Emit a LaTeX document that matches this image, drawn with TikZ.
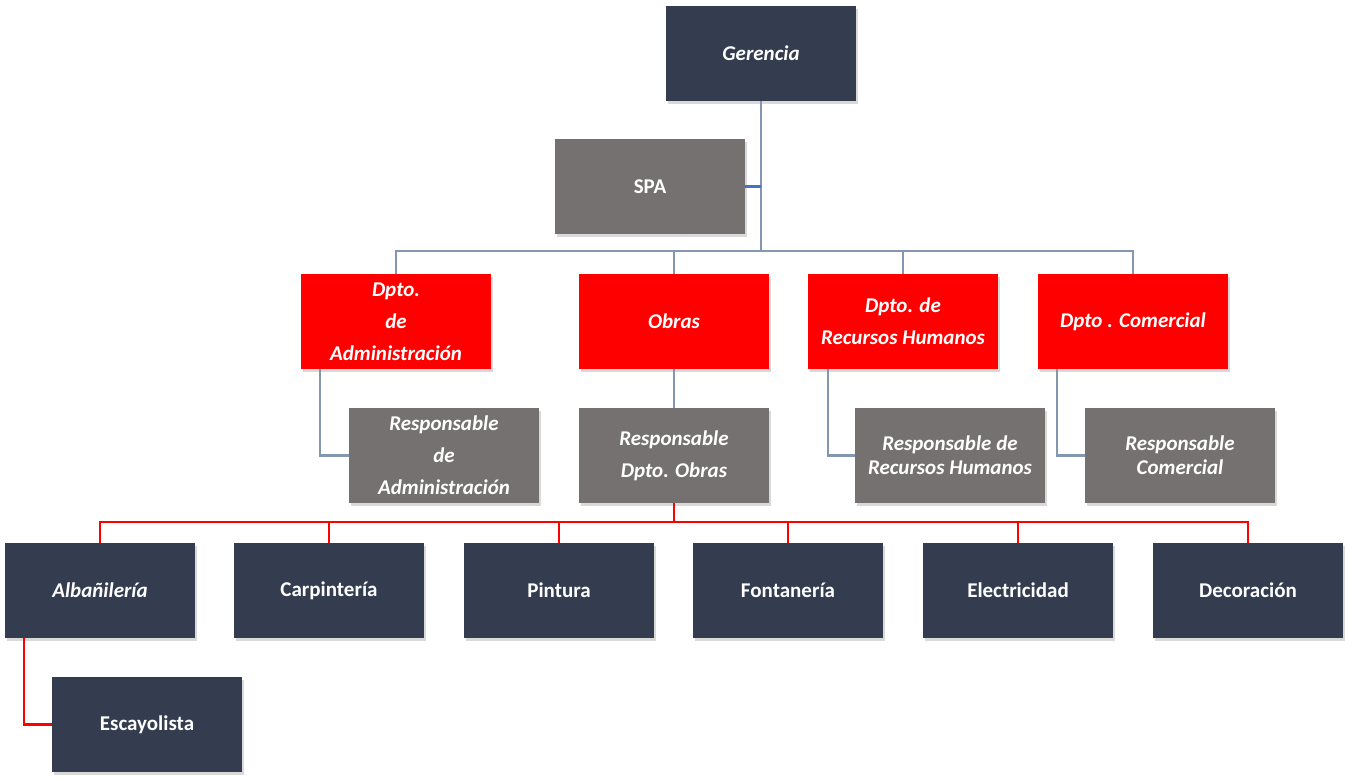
\documentclass[tikz,border=0pt]{standalone}
\usepackage{fontspec}
\setmainfont{Carlito}
\usetikzlibrary{shadows}
\definecolor{navy}{HTML}{333D4F}
\definecolor{stone}{HTML}{767171}
\definecolor{steel}{HTML}{8497B0}
\definecolor{spablue}{HTML}{4472C4}

\begin{document}
\begin{tikzpicture}[
    x=1pt, y=-1pt,
    box/.style={minimum width=190pt, minimum height=95pt, inner sep=0pt,
        align=center, text=white,
        font=\bfseries\fontsize{21}{32}\selectfont,
        drop shadow={opacity=0.3, shadow xshift=2pt, shadow yshift=-3pt}},
    boss/.style={box, fill=navy},
    staff/.style={box, fill=stone},
    dept/.style={box, fill=red},
    tight/.style={font=\bfseries\itshape\fontsize{21}{24}\selectfont},
    link/.style={line width=2.5pt, steel},
    redlink/.style={line width=2.5pt, red},
  ]
  \useasboundingbox (0,0) rectangle (1345,779);

  % top
  \node[boss] (ger) at (761,53.5) {\itshape Gerencia};
  \node[staff] (spa) at (650,186.5) {SPA};

  % departments
  \node[dept] (adm) at (396,321.5) {\itshape Dpto.\\ \itshape de\\ \itshape Administración};
  \node[dept] (obr) at (674,321.5) {\itshape Obras};
  \node[dept] (rrh) at (903,321.5) {\itshape Dpto. de\\ \itshape Recursos Humanos};
  \node[dept] (com) at (1133,321.5) {\itshape Dpto . Comercial};

  % responsables
  \node[staff] (radm) at (444,455.5) {\itshape Responsable\\ \itshape de\\ \itshape Administración};
  \node[staff] (robr) at (674,455.5) {\itshape Responsable\\ \itshape Dpto. Obras};
  \node[staff, tight] (rrrh) at (950,455.5) {Responsable de\\ Recursos Humanos};
  \node[staff, tight] (rcom) at (1180,455.5) {Responsable\\ Comercial};

  % trades
  \foreach \n/\x/\t in {alb/100/{\itshape Albañilería}, car/329/Carpintería,
      pin/559/Pintura, fon/788/Fontanería, ele/1018/Electricidad,
      dec/1248/Decoración} {
      \node[boss] (\n) at (\x,590.5) {\t};
    }
  \node[boss] (esc) at (147,724.5) {Escayolista};

  % connectors
  \coordinate (bus) at (761,251);
  \draw[link] (ger.south) -- (bus);
  \draw[line width=2.5pt, spablue] (spa.east) -- (spa.east -| ger.south);
  \foreach \d in {adm,obr,rrh,com} {
      \draw[link] (bus) -| (\d.north);
    }
  \draw[link] ([xshift=19pt]adm.south west) |- (radm.west);
  \draw[link] (obr.south) -- (robr.north);
  \draw[link] ([xshift=20pt]rrh.south west) |- (rrrh.west);
  \draw[link] ([xshift=19pt]com.south west) |- (rcom.west);

  \coordinate (rbus) at (674,522);
  \draw[redlink] (robr.south) -- (rbus);
  \foreach \t in {alb,car,pin,fon,ele,dec} {
      \draw[redlink] (rbus) -| (\t.north);
    }
  \draw[redlink] ([xshift=19pt]alb.south west) |- (esc.west);
\end{tikzpicture}
\end{document}
